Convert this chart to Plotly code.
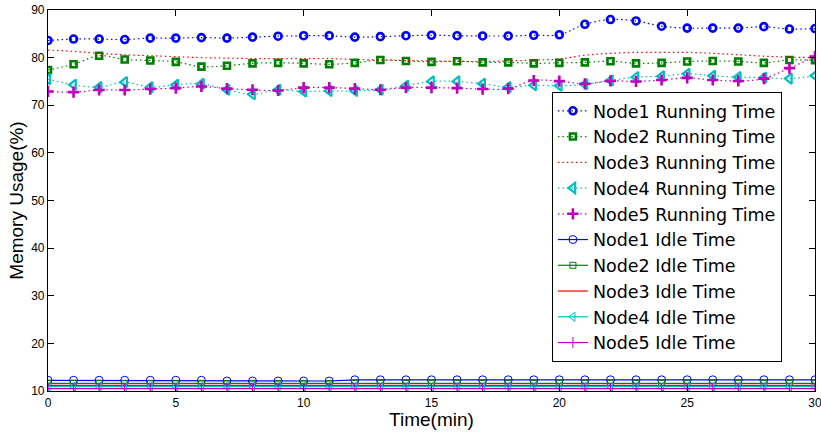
import plotly.graph_objects as go

minutes = list(range(0, 31))

node1_run = [83.6, 83.9, 83.9, 83.8, 84.1, 84.1, 84.2, 84.1, 84.3, 84.5, 84.6, 84.6, 84.3, 84.4, 84.6,
             84.7, 84.6, 84.55, 84.55, 84.7, 84.8, 87.0, 88.0, 87.7, 86.6, 86.2, 86.2, 86.2, 86.5, 86.0, 86.1]
node2_run = [77.4, 78.6, 80.4, 79.6, 79.4, 79.1, 78.1, 78.3, 78.8, 78.9, 78.8, 78.6, 78.9, 79.5, 79.3,
             79.1, 79.25, 79.0, 79.0, 78.8, 78.9, 79.0, 79.25, 78.8, 78.9, 79.2, 79.3, 79.2, 78.9, 79.5, 79.45]
node3_run = [81.6, 81.3, 80.9, 80.6, 80.4, 80.2, 80.0, 79.9, 79.8, 79.8, 79.8, 79.8, 79.6, 79.5, 79.4,
             79.3, 79.2, 79.2, 79.3, 79.5, 79.7, 80.5, 80.9, 81.1, 81.1, 81.1, 80.9, 80.6, 80.3, 80.1, 80.0]
node4_run = [75.5, 74.3, 73.8, 74.85, 73.8, 74.3, 74.5, 73.25, 72.3, 73.25, 72.9, 73.0, 73.0, 73.25, 74.1,
             75.0, 75.0, 74.5, 73.8, 74.2, 74.1, 74.4, 75.2, 75.9, 76.1, 76.6, 76.2, 75.9, 75.8, 75.6, 76.2]
node5_run = [72.9, 72.75, 73.2, 73.2, 73.4, 73.6, 73.95, 73.5, 73.25, 73.1, 73.7, 73.7, 73.5, 73.25, 73.7,
             73.7, 73.6, 73.4, 73.5, 75.2, 75.06, 74.5, 75.1, 75.0, 75.3, 75.75, 75.3, 75.1, 75.6, 77.8, 80.2]

node1_idle = [12.25] * 7 + [12.1] * 5 + [12.35] * 19
node2_idle = [11.6] * 31
node3_idle = [11.2] * 31
node4_idle = [10.9] * 31
node5_idle = [10.5] * 31

x_ticks = [0, 5, 10, 15, 20, 25, 30]
y_ticks = [10, 20, 30, 40, 50, 60, 70, 80, 90]

BLUE = "#0000FF"
GREEN = "#008000"
RED = "#FF0000"
CYAN = "#00BFBF"
MAGENTA = "#BF00BF"

DOT = "1.5px,3px"

fig = go.Figure()

running = [
    ("Node1 Running Time", node1_run, BLUE, "circle-open", 7, 2.6),
    ("Node2 Running Time", node2_run, GREEN, "square-open", 6, 2.6),
    ("Node3 Running Time", node3_run, RED, None, 0, 0),
    ("Node4 Running Time", node4_run, CYAN, "triangle-left-open", 9, 2.2),
    ("Node5 Running Time", node5_run, MAGENTA, "cross-thin-open", 8, 2.6),
]
for name, vals, col, sym, size, lw in running:
    if sym is None:
        fig.add_trace(go.Scatter(x=minutes, y=vals, name=name, mode="lines",
                                 line=dict(color=col, width=1.2, dash=DOT, shape="spline")))
    else:
        fig.add_trace(go.Scatter(x=minutes, y=vals, name=name, mode="lines+markers",
                                 line=dict(color=col, width=1.2, dash=DOT, shape="spline"),
                                 marker=dict(symbol=sym, size=size, color=col,
                                             line=dict(color=col, width=lw))))

idle = [
    ("Node1 Idle Time", node1_idle, BLUE, "circle-open", 8),
    ("Node2 Idle Time", node2_idle, GREEN, "square-open", 6),
    ("Node3 Idle Time", node3_idle, RED, None, 0),
    ("Node4 Idle Time", node4_idle, CYAN, "triangle-left-open", 8),
    ("Node5 Idle Time", node5_idle, MAGENTA, "cross-thin-open", 8),
]
for name, vals, col, sym, size in idle:
    if sym is None:
        fig.add_trace(go.Scatter(x=minutes, y=vals, name=name, mode="lines",
                                 line=dict(color=col, width=1.2)))
    else:
        fig.add_trace(go.Scatter(x=minutes, y=vals, name=name, mode="lines+markers",
                                 line=dict(color=col, width=1.2),
                                 marker=dict(symbol=sym, size=size, color=col,
                                             line=dict(color=col, width=1))))

axis_common = dict(showline=True, linecolor="black", linewidth=1.2, mirror="ticks",
                   ticks="inside", ticklen=6, tickcolor="black", showgrid=False, zeroline=False,
                   automargin=False, ticklabeloverflow="allow",
                   tickfont=dict(family="Liberation Sans, Arial, sans-serif", size=12, color="black"))

fig.update_layout(
    width=821, height=435,
    margin=dict(l=48, r=6, t=10, b=44),
    paper_bgcolor="white", plot_bgcolor="white",
    font=dict(family="Liberation Sans, Arial, sans-serif", color="black"),
    xaxis=dict(range=[0, 30], tickvals=x_ticks, ticktext=[str(v) for v in x_ticks],
               title=dict(text="Time(min)", font=dict(size=19), standoff=0), **axis_common),
    yaxis=dict(range=[10, 90], tickvals=y_ticks, ticktext=[str(v) for v in y_ticks],
               title=dict(text="Memory Usage(%)", font=dict(size=19), standoff=2), **axis_common),
    legend=dict(x=0.657, y=0.785, xanchor="left", yanchor="top",
                bgcolor="white", bordercolor="black", borderwidth=1,
                font=dict(family="DejaVu Sans, sans-serif", size=17.5, color="black"),
                tracegroupgap=0, itemwidth=30),
    showlegend=True,
)

fig.write_html("out.html", config={"displayModeBar": False},
               post_script="document.body.style.margin='0px';")
